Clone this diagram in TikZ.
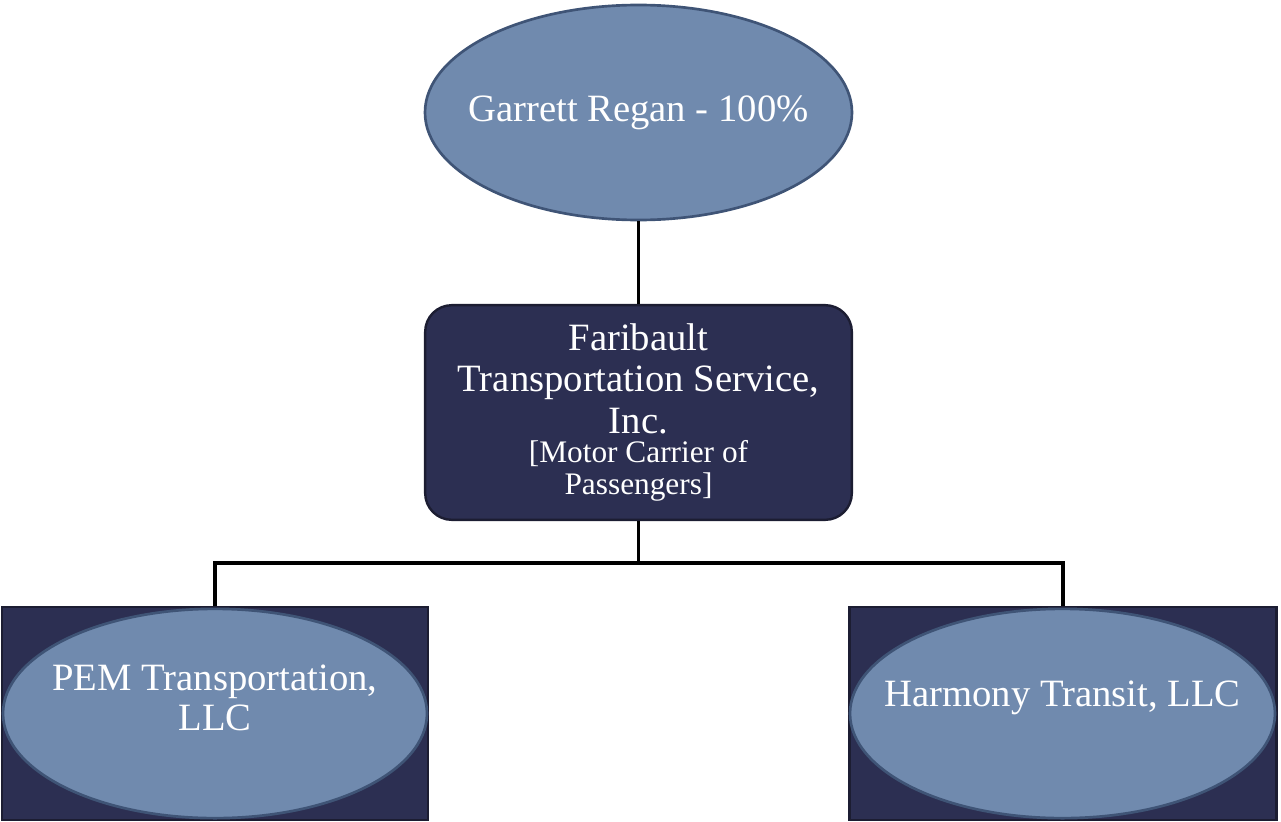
\documentclass[tikz,border=0pt]{standalone}
\usepackage{fontspec}
\setmainfont{Liberation Serif}
\usetikzlibrary{shapes.geometric}

\begin{document}
\begin{tikzpicture}[x=0.75pt,y=0.75pt,yscale=-1,
  oval/.style={ellipse, draw={rgb, 255:red, 63; green, 84; blue, 118 }, fill={rgb, 255:red, 112; green, 138; blue, 174 }, line width=2, inner sep=0pt},
  navy/.style={rectangle, draw={rgb, 255:red, 28; green, 29; blue, 50 }, fill={rgb, 255:red, 44; green, 47; blue, 82 }, line width=1.8, inner sep=0pt},
  lbl/.style={text=white, align=center, font=\fontsize{29}{30}\selectfont},
  link/.style={draw=black, line width=2.6}]
%set diagram to the size of the reference
\useasboundingbox (0,0) rectangle (1281,821);

%Owner
\node (regan) [oval, minimum width=320.25pt, minimum height=161.25pt] at (638.5,112.5) {};
\node [lbl] at (regan.center) {Garrett Regan - 100\%};

%Parent company
\node (fts) [navy, rounded corners=20pt, minimum width=320pt, minimum height=161pt, lbl] at (638.5,412.5)
  {Faribault\\[1pt]Transportation Service,\\[1pt]Inc.\\[-8pt]{\fontsize{23.5}{24}\selectfont [Motor Carrier of}\\[-6pt]{\fontsize{23.5}{24}\selectfont Passengers]}};

%Subsidiaries
\node (pembox) [navy, minimum width=319.5pt, minimum height=160pt] at (215,713.5) {};
\node (pem) [oval, minimum width=318pt, minimum height=157pt] at (215,713.5) {};
\node [lbl] at ([yshift=-12pt]pem.center) {PEM Transportation,\\LLC};

\node (harmonybox) [navy, minimum width=320pt, minimum height=160pt] at (1063,713.5) {};
\node (harmony) [oval, minimum width=318.75pt, minimum height=157pt] at (1062.5,713.5) {};
\node [lbl] at ([yshift=-12pt]harmony.center) {Harmony Transit, LLC};

%Connectors
\coordinate (split) at (638.5,563);
\draw [link] (regan.south) -- (fts.north);
\draw [link] (fts.south) -- (split);
\draw [link] (split) -| (pembox.north);
\draw [link] (split) -| (harmonybox.north);

\end{tikzpicture}
\end{document}
